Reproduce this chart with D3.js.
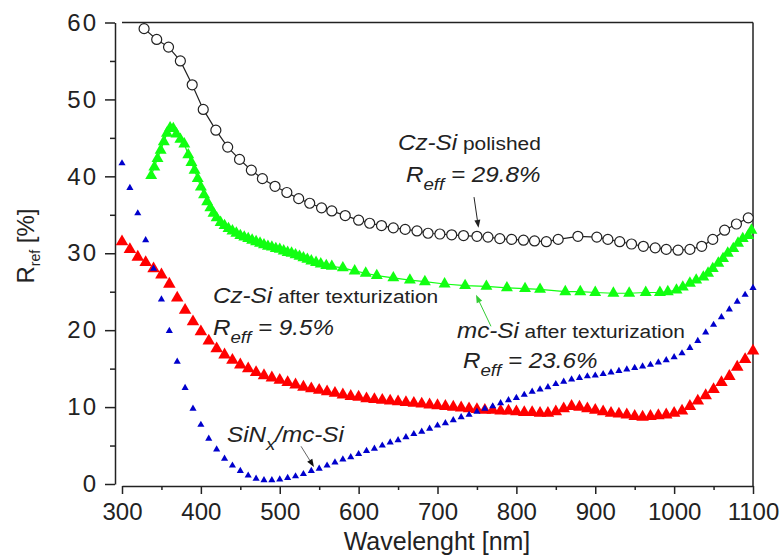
<!DOCTYPE html>
<html>
<head>
<meta charset="utf-8">
<script src="https://cdn.jsdelivr.net/npm/d3@7"></script>
<style>
  body { margin: 0; background: #fff; }
  #chart { width: 781px; height: 559px; }
  text { font-family: "Liberation Sans", Arial, sans-serif; fill: #222; }
  .axis path, .axis line { stroke: #222; stroke-width: 1.5; }
  .axis text { font-size: 24px; }
</style>
</head>
<body>
<div id="chart"></div>
<script>
//Datos
const xTicks = [300, 400, 500, 600, 700, 800, 900, 1000, 1100];
const xMinor = [350, 450, 550, 650, 750, 850, 950, 1050];
const yTicks = [0, 10, 20, 30, 40, 50, 60];
const yMinor = [5, 15, 25, 35, 45, 55];

//Cz-Si pulido (circulos abiertos)
const czPolishedNm = [328, 344, 359, 374, 389, 403, 419, 434, 449, 464, 478, 494, 509, 524, 538, 553, 566,
  583, 600, 614, 629, 644, 659, 674, 688, 703, 718, 733, 750, 764, 779, 794, 809, 823, 838, 853, 878,
  902, 916, 931, 946, 961, 976, 990, 1005, 1020, 1035, 1049, 1064, 1079, 1094];
const czPolishedR = [59.2, 57.8, 56.8, 55.0, 51.9, 48.7, 46.0, 43.8, 42.2, 40.8, 39.7, 38.7, 37.9, 37.1, 36.5, 35.9, 35.5,
  34.9, 34.3, 33.9, 33.6, 33.3, 33.1, 32.9, 32.6, 32.5, 32.4, 32.3, 32.2, 32.1, 31.9, 31.8, 31.7, 31.6, 31.5, 31.8, 32.2,
  32.1, 31.8, 31.5, 31.2, 30.9, 30.7, 30.5, 30.4, 30.5, 30.9, 31.8, 33.0, 33.8, 34.6];

//mc-Si texturizado (triangulos verdes)
const mcTexNm = [337, 341, 345, 349, 353, 357, 361, 365, 369, 374, 379, 384, 388, 392, 396, 400, 404, 408, 412, 416,
  420, 425, 430, 435, 440, 445, 450, 455, 460, 465, 470, 475, 480, 485, 490, 495, 500, 505, 510, 515, 520, 525, 530,
  535, 540, 546, 552, 559, 566, 580, 595, 609, 623, 644, 665, 684, 709, 735, 762, 788, 811, 830, 862, 881, 900, 923,
  943, 964, 982, 992, 1003, 1011, 1020, 1028, 1037, 1043, 1049, 1056, 1062, 1068, 1075, 1081, 1087, 1094, 1098];
const mcTexR = [40.1, 41.2, 42.3, 43.4, 44.5, 45.6, 46.3, 46.2, 45.5, 44.8, 44.2, 42.8, 41.8, 40.8, 39.7, 38.6, 37.6, 36.7, 35.9, 35.2,
  34.6, 34.0, 33.6, 33.2, 32.9, 32.6, 32.3, 32.1, 31.9, 31.7, 31.5, 31.3, 31.1, 30.9, 30.8, 30.6, 30.5, 30.3, 30.1, 30.0, 29.8, 29.6, 29.4,
  29.2, 29.0, 28.8, 28.6, 28.4, 28.3, 28.1, 27.7, 27.4, 27.1, 26.8, 26.5, 26.3, 26.0, 25.8, 25.7, 25.5, 25.4, 25.3, 25.0, 25.0, 24.9, 24.8,
  24.8, 24.9, 24.9, 25.0, 25.2, 25.6, 26.1, 26.5, 26.9, 27.4, 28.0, 28.7, 29.3, 30.0, 30.6, 31.3, 31.9, 32.3, 33.0];

//Cz-Si texturizado (triangulos rojos), cada 10 nm desde 300
const czTexNm = d3.range(300, 1101, 10);
const czTexR = [31.5, 30.5, 29.5, 28.8, 28.0, 27.2, 26.0, 24.2, 22.6, 21.1, 19.8, 18.6, 17.6, 16.8, 16.1, 15.5, 15.0, 14.5, 14.1, 13.8,
  13.5, 13.2, 12.9, 12.6, 12.4, 12.2, 12.0, 11.8, 11.6, 11.4, 11.3, 11.1, 11.0, 10.9, 10.8, 10.7, 10.6, 10.5, 10.4, 10.3,
  10.2, 10.1, 10.0, 9.9, 9.8, 9.7, 9.6, 9.6, 9.5, 9.5, 9.4, 9.3, 9.3, 9.2, 9.2, 9.4, 9.8, 10.1, 10.0, 9.8,
  9.6, 9.4, 9.2, 9.1, 9.0, 8.8, 8.7, 8.8, 8.9, 9.0, 9.2, 9.5, 10.1, 10.8, 11.5, 12.3, 13.2, 14.0, 15.2, 16.2, 17.3];

//SiNx/mc-Si (triangulos azules), cada 10 nm desde 300
const sinNm = d3.range(300, 1101, 10);
const sinR = [41.7, 38.5, 35.2, 31.7, 28.0, 24.0, 19.9, 15.9, 12.5, 9.8, 7.7, 5.9, 4.5, 3.3, 2.4, 1.7, 1.1, 0.7, 0.5, 0.5,
  0.6, 0.8, 1.0, 1.3, 1.7, 2.0, 2.4, 2.8, 3.2, 3.5, 3.9, 4.3, 4.6, 5.0, 5.4, 5.7, 6.1, 6.5, 6.8, 7.2,
  7.6, 7.9, 8.3, 8.7, 9.0, 9.4, 9.8, 10.1, 10.5, 10.9, 11.2, 11.6, 12.0, 12.3, 12.6, 13.0, 13.3, 13.6, 13.8, 14.0,
  14.1, 14.3, 14.5, 14.7, 14.9, 15.1, 15.3, 15.5, 15.8, 16.1, 16.5, 17.0, 17.7, 18.6, 19.7, 20.7, 21.7, 22.7, 23.7, 24.6, 25.5];

const COLOR_RED = '#ff0000',
  COLOR_GREEN = '#11ff11',
  COLOR_BLUE = '#0000cc',
  COLOR_BLACK = '#222';

let svg = d3.select('#chart')
  .append('svg')
    .attr('width', 781)
    .attr('height', 559);

let x = d3.scaleLinear().domain([300, 1100]).range([122, 753]);
let y = d3.scaleLinear().domain([0, 60]).range([484, 22.5]);

function pairs(xs, ys) {
  return xs.map(function(d, i) { return [d, ys[i]]; });
}

//Marco
svg.append('line').attr('x1', x(300)).attr('x2', x(1100)).attr('y1', y(60)).attr('y2', y(60))
  .attr('stroke', COLOR_BLACK).attr('stroke-width', 1.5);
svg.append('line').attr('x1', x(1100)).attr('x2', x(1100)).attr('y1', y(60)).attr('y2', 486)
  .attr('stroke', COLOR_BLACK).attr('stroke-width', 1.5);

//Ejes
svg.append('g').attr('class', 'axis').attr('transform', 'translate(115,0)')
  .call(d3.axisLeft(y).tickValues(yTicks).tickSize(10).tickSizeOuter(0).tickPadding(7).tickFormat(d3.format('d')))
  .call(function(g) { g.selectAll('text').attr('letter-spacing', '2px'); });
svg.append('g').attr('class', 'axis').attr('transform', 'translate(115,0)')
  .call(d3.axisLeft(y).tickValues(yMinor).tickSize(5).tickFormat(''))
  .call(function(g) { g.select('.domain').remove(); });

svg.append('g').attr('class', 'axis').attr('transform', 'translate(0,486)')
  .call(d3.axisBottom(x).tickValues(xTicks).tickSize(8).tickSizeOuter(0).tickPadding(9).tickFormat(d3.format('d')));
svg.append('g').attr('class', 'axis').attr('transform', 'translate(0,486)')
  .call(d3.axisBottom(x).tickValues(xMinor).tickSize(4).tickFormat(''))
  .call(function(g) { g.select('.domain').remove(); });

//Titulos de ejes
svg.append('text')
  .attr('x', 437).attr('y', 550)
  .attr('text-anchor', 'middle')
  .style('font-size', '25px')
  .text('Wavelenght [nm]');

let yTitle = svg.append('text')
  .attr('transform', 'translate(34,246) rotate(-90)')
  .attr('text-anchor', 'middle')
  .style('font-size', '24px');
yTitle.append('tspan').text('R');
yTitle.append('tspan').attr('dy', 6).style('font-size', '14px').text('ref');
yTitle.append('tspan').attr('dy', -6).text(' [%]');

let line = d3.line().x(function(d) { return x(d[0]); }).y(function(d) { return y(d[1]); });

//Cz-Si texturizado
svg.append('g').selectAll('path')
  .data(pairs(czTexNm, czTexR))
  .enter().append('path')
  .attr('transform', function(d) { return 'translate(' + x(d[0]) + ',' + y(d[1]) + ')'; })
  .attr('d', d3.symbol(d3.symbolTriangle, 68))
  .attr('fill', COLOR_RED);

//SiNx/mc-Si
svg.append('g').selectAll('path')
  .data(pairs(sinNm, sinR))
  .enter().append('path')
  .attr('transform', function(d) { return 'translate(' + x(d[0]) + ',' + y(d[1]) + ')'; })
  .attr('d', d3.symbol(d3.symbolTriangle, 22))
  .attr('fill', COLOR_BLUE);

//mc-Si texturizado
svg.append('path')
  .datum(pairs(mcTexNm, mcTexR))
  .attr('fill', 'none')
  .attr('stroke', COLOR_GREEN)
  .attr('stroke-width', 1.2)
  .attr('d', line);
svg.append('g').selectAll('path')
  .data(pairs(mcTexNm, mcTexR))
  .enter().append('path')
  .attr('transform', function(d) { return 'translate(' + x(d[0]) + ',' + y(d[1]) + ')'; })
  .attr('d', d3.symbol(d3.symbolTriangle, 62))
  .attr('fill', COLOR_GREEN);

//Cz-Si pulido
svg.append('path')
  .datum(pairs(czPolishedNm, czPolishedR))
  .attr('fill', 'none')
  .attr('stroke', COLOR_BLACK)
  .attr('stroke-width', 1.2)
  .attr('d', line);
svg.append('g').selectAll('circle')
  .data(pairs(czPolishedNm, czPolishedR))
  .enter().append('circle')
  .attr('cx', function(d) { return x(d[0]); })
  .attr('cy', function(d) { return y(d[1]); })
  .attr('r', 5)
  .attr('fill', '#fff')
  .attr('stroke', COLOR_BLACK)
  .attr('stroke-width', 1.2);

//Anotaciones
function label(px, py, parts) {
  let t = svg.append('text').attr('transform', 'translate(' + px + ',' + py + ') scale(1.1,1)');
  parts.forEach(function(p) {
    t.append('tspan')
      .attr('dy', p.dy || 0)
      .style('font-size', p.size + 'px')
      .style('font-style', p.italic ? 'italic' : 'normal')
      .text(p.t);
  });
}

function reff(px, py, value) {
  label(px, py, [
    { t: 'R', size: 22, italic: true },
    { t: 'eff', size: 17, italic: true, dy: 8 },
    { t: ' = ' + value, size: 22, italic: true, dy: -8 }
  ]);
}

label(398, 150, [{ t: 'Cz-Si', size: 22, italic: true }, { t: ' polished', size: 19 }]);
reff(406, 182, '29.8%');
label(213, 303, [{ t: 'Cz-Si', size: 22, italic: true }, { t: ' after texturization', size: 19 }]);
reff(213, 335, '9.5%');
label(457, 338, [{ t: 'mc-Si', size: 22, italic: true }, { t: ' after texturization', size: 19 }]);
reff(463, 368, '23.6%');
label(227, 442, [
  { t: 'SiN', size: 22, italic: true },
  { t: 'x', size: 17, italic: true, dy: 8 },
  { t: '/mc-Si', size: 22, italic: true, dy: -8 }
]);

//Flechas (en unidades de datos)
function arrow(from, to, lineColor, headColor) {
  let x1 = x(from[0]), y1 = y(from[1]), x2 = x(to[0]), y2 = y(to[1]);
  let a = Math.atan2(y2 - y1, x2 - x1), L = 8, W = 3;
  let bx = x2 - L * Math.cos(a), by = y2 - L * Math.sin(a);
  svg.append('line')
    .attr('x1', x1).attr('y1', y1).attr('x2', bx).attr('y2', by)
    .attr('stroke', lineColor).attr('stroke-width', 1);
  svg.append('path')
    .attr('d', 'M' + x2 + ',' + y2 +
      'L' + (bx + W * Math.sin(a)) + ',' + (by - W * Math.cos(a)) +
      'L' + (bx - W * Math.sin(a)) + ',' + (by + W * Math.cos(a)) + 'Z')
    .attr('fill', headColor);
}

arrow([746.3, 37.3], [752, 33.3], '#222', '#222');
arrow([767.8, 20.5], [748.8, 24.6], '#33cc33', '#33cc33');
arrow([527, 4.9], [543.4, 2.2], '#666', '#111');
</script>
</body>
</html>
